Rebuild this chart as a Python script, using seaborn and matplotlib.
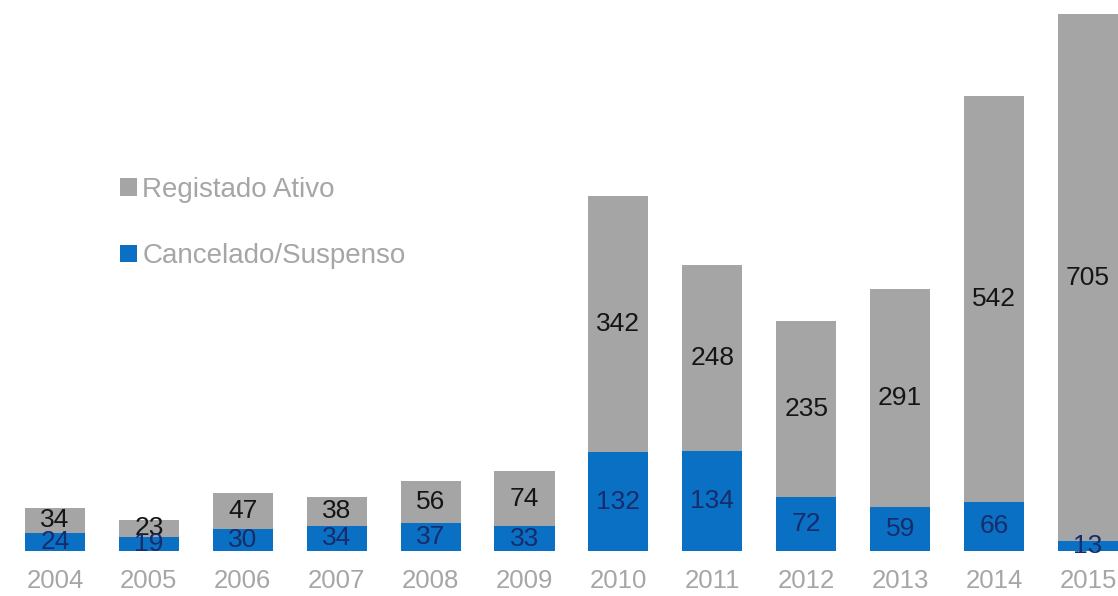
import matplotlib
matplotlib.use("Agg")
import matplotlib.pyplot as plt
import seaborn as sns
import pandas as pd
from matplotlib.patches import Patch

years = ["2004", "2005", "2006", "2007", "2008", "2009",
         "2010", "2011", "2012", "2013", "2014", "2015"]
registado_ativo = [34, 23, 47, 38, 56, 74, 342, 248, 235, 291, 542, 705]
cancelado_suspenso = [24, 19, 30, 34, 37, 33, 132, 134, 72, 59, 66, 13]

GRAY = "#a5a5a5"
BLUE = "#0a70c4"
TEXT_GRAY = "#a6a6a6"

sns.set_theme(style="white")
plt.rcParams["font.family"] = ["Liberation Sans", "DejaVu Sans"]

df = pd.DataFrame({
    "ano": years,
    "ativo": registado_ativo,
    "cancelado": cancelado_suspenso,
})
df["total"] = df["ativo"] + df["cancelado"]

fig = plt.figure(figsize=(11.18, 5.96), dpi=100)
ax = fig.add_axes([0, 45 / 596, 1, 551 / 596])

# stacked bars: full total in gray, cancelled portion in blue on top of it
sns.barplot(data=df, x="ano", y="total", color=GRAY, saturation=1,
            width=0.64, ax=ax, linewidth=0)
sns.barplot(data=df, x="ano", y="cancelado", color=BLUE, saturation=1,
            width=0.64, ax=ax, linewidth=0)

for i, (a, c) in enumerate(zip(df["ativo"], df["cancelado"])):
    ax.text(i, c + a / 2, str(a), ha="center", va="center",
            fontsize=19, color="#151515")
    ax.text(i, c / 2, str(c), ha="center", va="center",
            fontsize=19, color="#172c6a")

ax.set_xlim(-0.586, 11.32)
ax.set_ylim(0, 551 / 0.748)
ax.set_xlabel("")
ax.set_ylabel("")
ax.set_yticks([])
ax.tick_params(axis="x", length=0, pad=13, labelsize=18.5, labelcolor=TEXT_GRAY)
for s in ax.spines.values():
    s.set_visible(False)

handles = [Patch(facecolor=GRAY, edgecolor="none", label="Registado Ativo"),
           Patch(facecolor=BLUE, edgecolor="none", label="Cancelado/Suspenso")]
ax.legend(handles=handles, loc="upper left", bbox_to_anchor=(120 / 1118, 1 - 177 / 596),
          bbox_transform=fig.transFigure, frameon=False, fontsize=20,
          labelcolor=TEXT_GRAY, handlelength=0.6, handleheight=0.6,
          handletextpad=0.2, labelspacing=1.45, borderpad=0, borderaxespad=0)

fig.savefig("out.png", dpi=100, facecolor="white")
